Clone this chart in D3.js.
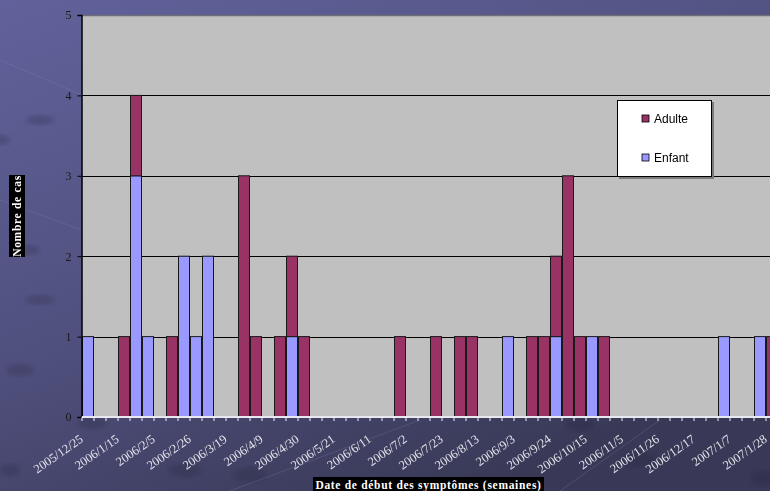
<!DOCTYPE html>
<meta charset="utf-8">
<html>
  <head>
    <style>
      body { margin: 0; overflow: hidden; }
      text.tick-y { font: 12px "Liberation Serif", serif; fill: #1a1a1a; }
      text.tick-x { font: 12.5px "Liberation Serif", serif; fill: #e6e6ee; }
      text.title { font: bold 11.5px "Liberation Serif", serif; fill: #fff; letter-spacing: 0.7px; }
      text.legend { font: 12px "Liberation Sans", Arial, sans-serif; fill: #000; }
    </style>
    <script src="https://d3js.org/d3.v7.min.js"></script>
  </head>
  <body>
    <div id="chart"></div>
    <script type="text/javascript">
      // weekly counts, week 0 = 2005/12/25 ... week 57 = 2007/1/28
      var enfant = [1,0,0,0,3,1,0,0,2,1, 2,0,0,0,0,0,0,1,0,0,
                    0,0,0,0,0,0,0,0,0,0, 0,0,0,0,0,1,0,0,0,1,
                    0,0,1,0,0,0,0,0,0,0, 0,0,0,1,0,0,1,0];
      var adulte = [0,0,0,1,1,0,0,1,0,0, 0,0,0,3,1,0,1,1,1,0,
                    0,0,0,0,0,0,1,0,0,1, 0,1,1,0,0,0,0,1,1,1,
                    3,1,0,1,0,0,0,0,0,0, 0,0,0,0,0,0,0,1];
      var series = ["Enfant", "Adulte"];
      var colors = { Enfant: "#9999ff", Adulte: "#993366" };
      var yTicks = [0, 1, 2, 3, 4, 5];
      var firstWeek = new Date(2005, 11, 25);

      var W = 770, H = 491;
      var margin = { left: 82, top: 15, bottom: 74 },
          plotRight = 778;

      var weeks = d3.timeWeek.range(firstWeek, d3.timeDay.offset(firstWeek, 7 * enfant.length));
      var fmt = d3.timeFormat("%Y/%-m/%-d");
      var data = weeks.map(function (d, i) { return { week: fmt(d), Enfant: enfant[i], Adulte: adulte[i] }; });

      var svg = d3.select("#chart").append("svg")
          .attr("width", W).attr("height", H);

      var defs = svg.append("defs");
      var bg = defs.append("linearGradient").attr("id", "bg")
          .attr("x1", "0").attr("y1", "0").attr("x2", "0.6").attr("y2", "1");
      bg.append("stop").attr("offset", "0").attr("stop-color", "#61629b");
      bg.append("stop").attr("offset", "0.55").attr("stop-color", "#50507e");
      bg.append("stop").attr("offset", "1").attr("stop-color", "#393957");
      defs.append("filter").attr("id", "soft")
        .append("feGaussianBlur").attr("stdDeviation", 2);
      svg.append("rect").attr("width", W).attr("height", H).attr("fill", "url(#bg)");

      // faint slide decoration
      var deco = svg.append("g").attr("opacity", 0.22);
      [[92, 423, 14, 6], [185, 470, 16, 7], [250, 475, 16, 7], [580, 425, 14, 6], [640, 460, 16, 7], [765, 478, 14, 7],
       [40, 120, 14, 5], [25, 250, 14, 5], [40, 300, 14, 5], [20, 370, 14, 6], [10, 470, 10, 6], [0, 140, 10, 5]]
        .forEach(function (e) {
          deco.append("ellipse").attr("cx", e[0]).attr("cy", e[1]).attr("rx", e[2]).attr("ry", e[3])
              .attr("fill", "#22223a").attr("filter", "url(#soft)");
        });
      var lines = svg.append("g").attr("stroke", "#8a8ab8").attr("stroke-width", 0.5).attr("opacity", 0.5);
      [[0, 60, 82, 95], [0, 200, 82, 230], [230, 491, 420, 420], [560, 491, 660, 420]].forEach(function (l) {
        lines.append("line").attr("x1", l[0]).attr("y1", l[1]).attr("x2", l[2]).attr("y2", l[3]);
      });

      var x = d3.scaleBand()
          .domain(data.map(function (d) { return d.week; }))
          .range([margin.left, plotRight])
          .padding(0);

      var y = d3.scaleLinear()
          .domain([0, 5])
          .range([H - margin.bottom, margin.top]);

      // plot area
      svg.append("rect")
          .attr("x", margin.left).attr("y", margin.top)
          .attr("width", plotRight - margin.left).attr("height", y(0) - margin.top)
          .attr("fill", "#c0c0c0");
      svg.append("line")
          .attr("x1", margin.left).attr("x2", plotRight)
          .attr("y1", margin.top + 0.5).attr("y2", margin.top + 0.5)
          .attr("stroke", "#6e6e78").attr("stroke-width", 1.5);

      // gridlines
      svg.append("g").selectAll("line")
          .data(yTicks.filter(function (d) { return d > 0 && d < 5; }))
          .enter().append("line")
            .attr("x1", margin.left).attr("x2", plotRight)
            .attr("y1", function (d) { return Math.round(y(d)) + 0.5; })
            .attr("y2", function (d) { return Math.round(y(d)) + 0.5; })
            .attr("stroke", "#000").attr("stroke-width", 1);

      // stacked bars
      var stack = d3.stack().keys(series)(data);
      svg.append("g").selectAll("g")
          .data(stack)
          .enter().append("g")
            .attr("fill", function (d) { return colors[d.key]; })
          .selectAll("rect")
          .data(function (d) { return d.filter(function (v) { return v[1] > v[0]; }); })
          .enter().append("rect")
            .attr("x", function (d) { return x(d.data.week) + 0.5; })
            .attr("y", function (d) { return y(d[1]); })
            .attr("width", x.bandwidth() - 1)
            .attr("height", function (d) { return y(d[0]) - y(d[1]); })
            .attr("stroke", "#1a1a1a").attr("stroke-width", 1);

      // y axis
      var yAxis = svg.append("g")
          .attr("transform", "translate(" + (margin.left - 0.5) + ",0)")
          .call(d3.axisLeft(y).tickValues(yTicks).tickSize(4).tickPadding(6).tickFormat(d3.format("d")));
      yAxis.select(".domain").attr("stroke", "#000").attr("stroke-width", 1.5);
      yAxis.selectAll(".tick line").attr("stroke", "#000");
      yAxis.selectAll(".tick text").attr("class", "tick-y");

      // x axis
      var xAxis = svg.append("g")
          .attr("transform", "translate(0," + y(0) + ")");
      xAxis.append("line")
          .attr("x1", margin.left).attr("x2", plotRight)
          .attr("stroke", "#e8e8f0").attr("stroke-width", 2);
      xAxis.selectAll(".xt")
          .data(data)
          .enter().append("line")
            .attr("class", "xt")
            .attr("x1", function (d) { return x(d.week); })
            .attr("x2", function (d) { return x(d.week); })
            .attr("y1", 0).attr("y2", 4)
            .attr("stroke", "#f0f0f8").attr("stroke-width", 1);
      xAxis.selectAll("text")
          .data(data.filter(function (d, i) { return i % 3 === 0; }))
          .enter().append("text")
            .attr("class", "tick-x")
            .attr("text-anchor", "end")
            .attr("transform", function (d) {
              return "translate(" + (x(d.week) + x.bandwidth() / 2 - 4) + ",24) rotate(-35)";
            })
            .text(function (d) { return d.week; });

      // axis titles
      var xt = svg.append("g");
      xt.append("rect").attr("x", 313).attr("y", 477).attr("width", 231).attr("height", 16).attr("fill", "#000");
      xt.append("text").attr("class", "title").attr("x", 428.5).attr("y", 488.5)
          .attr("text-anchor", "middle").text("Date de début des symptômes (semaines)");

      var yt = svg.append("g").attr("transform", "translate(17,216) rotate(-90)");
      yt.append("rect").attr("x", -41).attr("y", -8).attr("width", 82).attr("height", 16).attr("fill", "#000");
      yt.append("text").attr("class", "title").attr("y", 4).attr("text-anchor", "middle").text("Nombre de cas");

      // legend
      var lg = svg.append("g").attr("transform", "translate(617,100)");
      lg.append("rect").attr("x", 2).attr("y", 2).attr("width", 95).attr("height", 77).attr("fill", "#7a7a7a");
      lg.append("rect").attr("x", 0.5).attr("y", 0.5).attr("width", 94).attr("height", 76)
          .attr("fill", "#fff").attr("stroke", "#000");
      var items = lg.selectAll(".item")
          .data(series.slice().reverse())
          .enter().append("g")
            .attr("transform", function (d, i) { return "translate(25," + (15 + i * 39) + ")"; });
      items.append("rect").attr("width", 7).attr("height", 7)
          .attr("fill", function (d) { return colors[d]; }).attr("stroke", "#000").attr("stroke-width", 0.8);
      items.append("text").attr("class", "legend").attr("x", 12).attr("y", 8).text(function (d) { return d; });
    </script>
  </body>
</html>
